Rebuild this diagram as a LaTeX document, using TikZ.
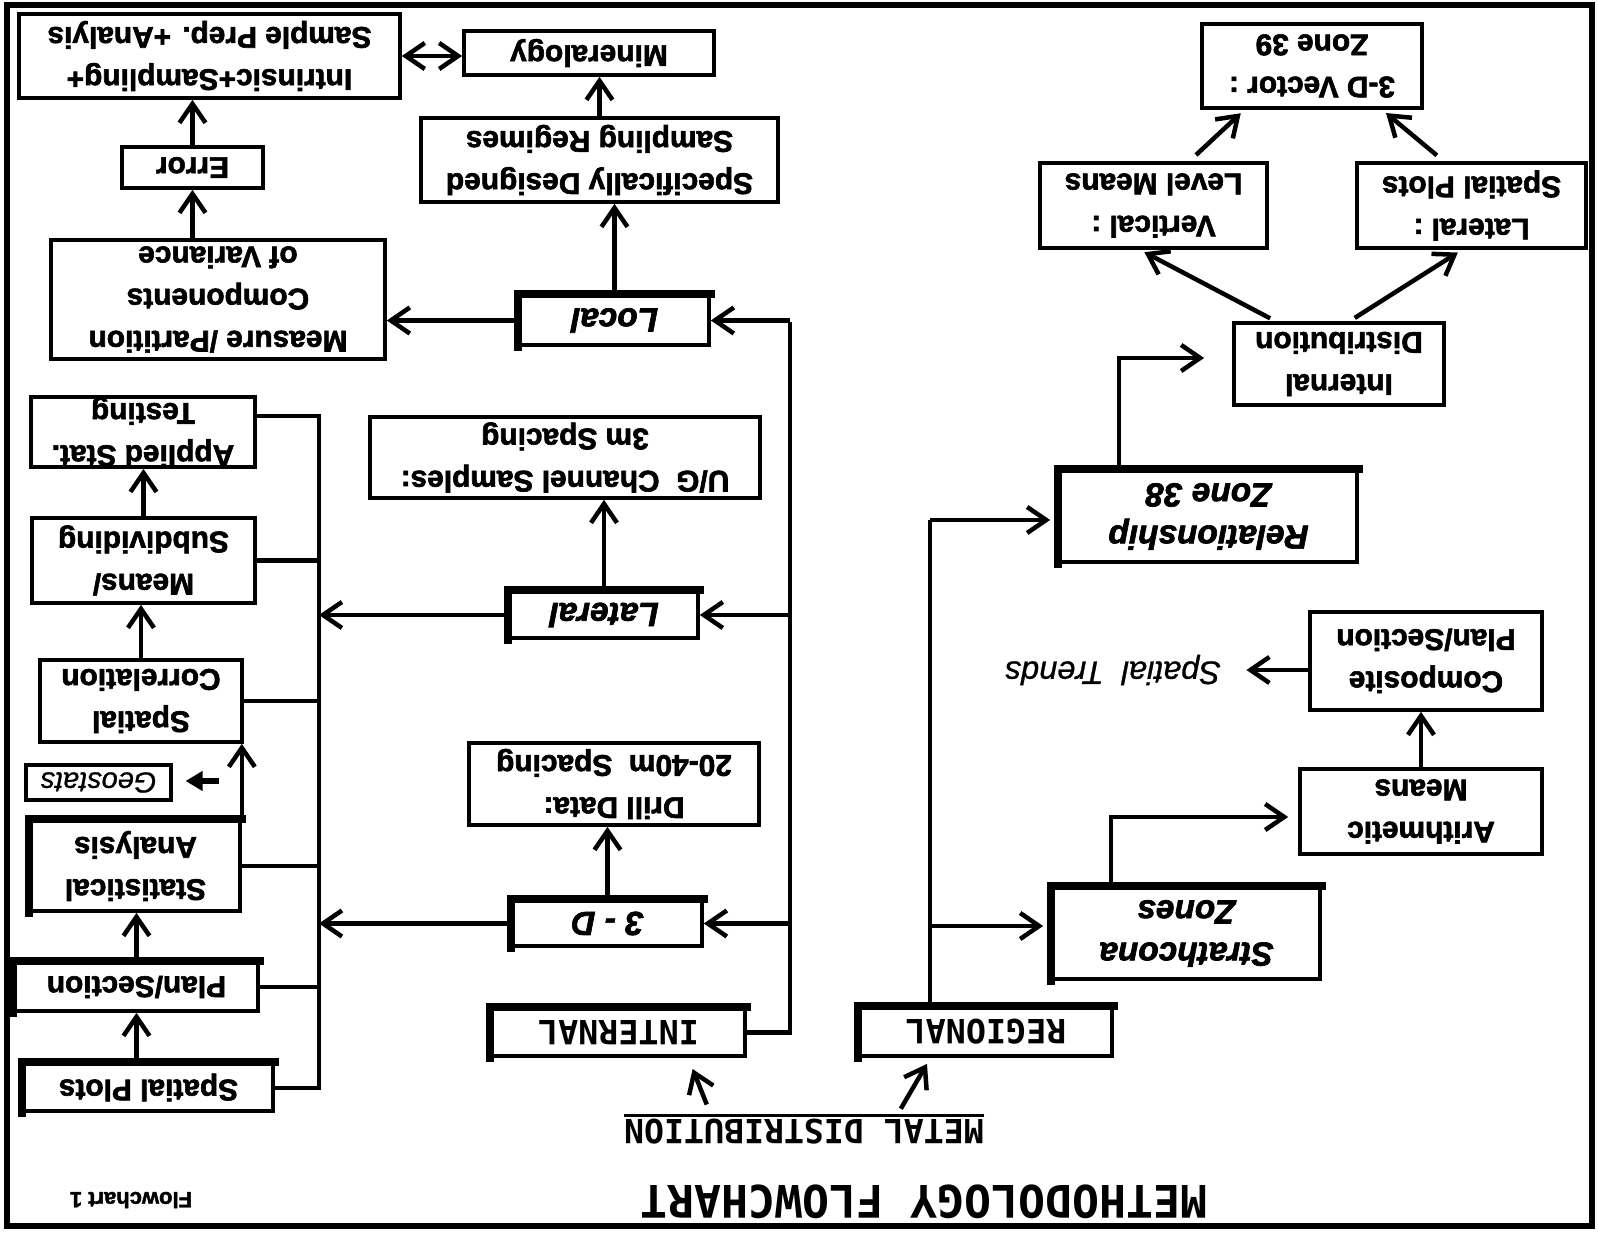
\documentclass[tikz,border=0pt]{standalone}
\usepackage{fontspec}
\setmainfont{Liberation Sans}[BoldFeatures={FakeBold=2}, BoldItalicFeatures={FakeBold=2}, ItalicFeatures={FakeBold=0.8}]
\newfontfamily\capsfont{DejaVu Sans Mono}
\usetikzlibrary{arrows.meta}

\begin{document}
\begin{tikzpicture}[x=0.02cm, y=-0.02cm, rotate=180, transform shape,
                        >={Straight Barb[length=0.38cm,width=0.52cm]},
                        box/.style={draw, line width=0.075cm, align=center, inner sep=0pt,
                            font=\fontsize{17}{24}\selectfont\bfseries},
                        keybox/.style={box, font=\fontsize{19}{24}\selectfont\bfseries\itshape},
                        capsbox/.style={box, font=\fontsize{19}{24}\selectfont\capsfont\bfseries},
                        wire/.style={line width=0.09cm},
                        heavy/.style={line width=0.15cm, line cap=rect}]
                        \useasboundingbox (0,0) rectangle (1598,1236);
                        \draw [line width=0.12cm] (6,10) rectangle (1591,1231);

                        \node [font=\fontsize{25.5}{26}\selectfont\capsfont\bfseries, inner sep=0pt] (title) at (674,34) {METHODOLOGY FLOWCHART};
                        \node [font=\fontsize{12.5}{14}\selectfont\bfseries, inner sep=0pt] (flow) at (1467,36) {Flowchart 1};
                        \node [font=\fontsize{18.9}{20}\selectfont\capsfont\bfseries, inner sep=0pt, minimum height=0.64cm, text depth=0pt] (metal) at (794,104) {METAL DISTRIBUTION};
                        \draw [line width=0.06cm] (metal.south west) -- (metal.south east);

                        \node [capsbox, minimum width=5.06cm, minimum height=0.94cm] (int) at (979.5,203.5) {INTERNAL};
                        \node [capsbox, minimum width=5.04cm, minimum height=0.96cm] (reg) at (612,204) {REGIONAL};

                        \node [box, minimum width=4.98cm, minimum height=0.94cm] (splt) at (1449.5,148.5) {Spatial Plots};
                        \node [box, minimum width=4.86cm, minimum height=0.96cm] (plan) at (1461.5,249) {Plan/Section};
                        \node [box, minimum width=4.18cm, minimum height=1.80cm] (stat) at (1462.5,370) {Statistical\\Analysis};
                        \node [box, line width=0.065cm, font=\fontsize{16.5}{20}\selectfont\itshape, minimum width=2.9cm, minimum height=0.7cm] (geo) at (1499.5,453.5) {Geostats};
                        \node [box, minimum width=4.04cm, minimum height=1.64cm] (scor) at (1457,535) {Spatial\\Correlation};
                        \node [box, minimum width=4.46cm, minimum height=1.70cm] (means) at (1454.5,675.5) {Means/\\Subdividing};
                        \node [box, minimum width=4.48cm, minimum height=1.40cm] (appl) at (1455,804) {Applied Stat.\\Testing};

                        \node [keybox, minimum width=3.78cm, minimum height=0.90cm] (thd) at (990.5,312.5) {3 - D};
                        \node [box, minimum width=5.80cm, minimum height=1.64cm] (drill) at (984,452) {Drill Data:\\20-40m\ \ Spacing};
                        \node [keybox, minimum width=3.76cm, minimum height=0.92cm] (lat) at (994,621) {Lateral};
                        \node [box, minimum width=7.80cm, minimum height=1.62cm] (ug) at (1033,778.5) {U/G\ \ Channel Samples:\\3m Spacing};
                        \node [keybox, minimum width=3.78cm, minimum height=0.98cm] (local) at (983.5,915.5) {Local};
                        \node [box, minimum width=6.68cm, minimum height=2.38cm] (meas) at (1380,936.5) {Measure /Partition\\Components\\of Variance};
                        \node [box, minimum width=7.14cm, minimum height=1.68cm] (spec) at (998.5,1076) {Specifically Designed\\Sampling Regimes};
                        \node [box, minimum width=2.82cm, minimum height=0.82cm] (err) at (1405.5,1068.5) {Error};
                        \node [box, minimum width=7.62cm, minimum height=1.68cm] (intr) at (1388.5,1180) {Intrinsic+Sampling+\\Sample Prep. +Analyis};
                        \node [box, minimum width=5.00cm, minimum height=0.88cm] (minr) at (1009,1183) {Mineralogy};

                        \node [keybox, minimum width=5.34cm, minimum height=1.82cm] (strat) at (411.5,302.5) {Strathcona\\Zones};
                        \node [box, minimum width=4.84cm, minimum height=1.70cm] (arith) at (177,424.5) {Arithmetic\\Means};
                        \node [box, minimum width=4.64cm, minimum height=1.96cm] (comp) at (172,575) {Composite\\Plan/Section};
                        \node [font=\fontsize{18.5}{22}\selectfont\itshape, inner sep=0pt] (trends) at (485,566) {Spatial\ \ Trends};
                        \node [keybox, minimum width=5.94cm, minimum height=1.82cm] (rel) at (389.5,719.5) {Relationship\\Zone 38};
                        \node [box, minimum width=4.20cm, minimum height=1.64cm] (idist) at (259,872) {Internal\\Distribution};
                        \node [box, minimum width=4.54cm, minimum height=1.70cm] (vert) at (444.5,1030.5) {Vertical :\\Level Means};
                        \node [box, minimum width=4.58cm, minimum height=1.70cm] (latsp) at (126.5,1030.5) {Lateral :\\Spatial Plots};
                        \node [box, minimum width=4.40cm, minimum height=1.68cm] (vec) at (286,1170) {3-D Vector :\\Zone 39};

                        \foreach \n in {local,lat,thd,int,reg,strat,rel,stat,plan,splt}
                        {
                            \draw [heavy] (\n.north east) -- (\n.south east) -- (\n.south west);
                        }

                        \draw [wire, ->, shorten <=0.24cm, shorten >=0.24cm] (metal.-10) -- (int.160);
                        \draw [wire, ->, shorten <=0.16cm, shorten >=0.14cm] (metal.-170) -- (reg.25);

                        \coordinate (bt) at (1279,820);
                        \coordinate (bb) at (1279,148);
                        \draw [wire] (appl.west |- bt) -- (bt) -- (bb) -- (splt.west |- bb);
                        \foreach \n in {means,scor,stat,plan}
                        {
                            \draw [wire] (\n.west) -- (\n.west -| bt);
                        }
                        \draw [wire, ->] (plan.north |- splt.south) -- (plan.north);
                        \draw [wire, ->] (plan.south) -- (plan.south |- stat.north);
                        \draw [wire, ->] (stat.south west) -- (stat.south west |- scor.north);
                        \draw [wire, ->] (scor.south) -- (scor.south |- means.north);
                        \draw [wire, ->] (means.south) -- (means.south |- appl.north);
                        \coordinate (gs) at (1379,455);
                        \draw [line width=0.12cm, -{Triangle[length=0.34cm,width=0.38cm]}, shorten >=0.26cm] (gs) -- (gs -| geo.west);

                        \coordinate (ib) at (808,914);
                        \draw [wire] (int.west) -- (int.west -| ib) -- (ib);
                        \foreach \n in {local,lat,thd}
                        {
                            \draw [wire, ->] (ib |- \n.west) -- (\n.west);
                        }
                        \foreach \n in {lat,thd}
                        {
                            \draw [wire, ->] (\n.east) -- (\n.east -| bt);
                        }
                        \draw [wire, ->] (thd.south) -- (thd.south |- drill.north);
                        \draw [wire, ->] (lat.south) -- (lat.south |- ug.north);
                        \draw [wire, ->] (local.east) -- (local.east -| meas.west);
                        \draw [wire, ->] (local.south) -- (local.south |- spec.north);
                        \draw [wire, ->] (spec.south) -- (spec.south |- minr.north);
                        \draw [wire, ->] (err.north |- meas.south) -- (err.north);
                        \draw [wire, ->] (err.south) -- (err.south |- intr.north);
                        \draw [wire, <->] (intr.west) -- (intr.west -| minr.east);

                        \coordinate (rs) at (668,310);
                        \coordinate (rb) at (668,716);
                        \draw [wire] (reg.south -| rb) -- (rb);
                        \draw [wire, ->, shorten >=0.16cm] (rs) -- (rs -| strat.east);
                        \draw [wire, ->, shorten >=0.16cm] (rb) -- (rb -| rel.east);
                        \coordinate (sa) at (487,419);
                        \draw [wire, ->, shorten >=0.2cm] (strat.south -| sa) -- (sa) -- (sa -| arith.east);
                        \draw [wire, ->] (arith.south) -- (arith.south |- comp.north);
                        \draw [wire, ->, shorten >=0.5cm] (comp.east |- trends.west) -- (trends.west);
                        \coordinate (ri) at (479,878);
                        \draw [wire, ->, shorten >=0.56cm] (rel.south -| ri) -- (ri) -- (ri -| idist.east);
                        \draw [wire, ->, shorten <=0.12cm, shorten >=0.1cm] (idist.-34) -- (vert.73);
                        \draw [wire, ->, shorten <=0.12cm, shorten >=0.1cm] (idist.-104) -- (latsp.78);
                        \draw [wire, ->, shorten <=0.18cm, shorten >=0.1cm] (vert.-129) -- (vec.33);
                        \draw [wire, ->, shorten <=0.18cm, shorten >=0.1cm] (latsp.-58) -- (vec.148);
                    \end{tikzpicture}
\end{document}
